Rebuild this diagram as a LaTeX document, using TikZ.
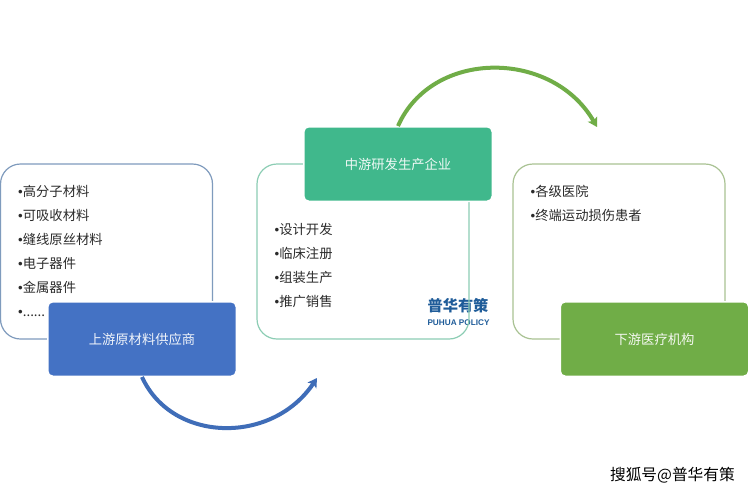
\documentclass[tikz,border=0pt]{standalone}
\usepackage{fontspec}
\setmainfont{Noto Sans CJK SC}
\newfontfamily\bulletfont{Liberation Sans}
\newfontfamily\logolatin{Liberation Sans}
\newcommand{\bu}{{\bulletfont •}}
\definecolor{txt}{HTML}{2B2B2B}
\definecolor{cblue}{HTML}{4472C4}
\definecolor{aqblue}{HTML}{3F6DB8}
\definecolor{cteal}{HTML}{40B88C}
\definecolor{cgreen}{HTML}{70AD47}
\definecolor{lblue}{HTML}{7F9BBD}
\definecolor{lteal}{HTML}{8CCDB4}
\definecolor{lgreen}{HTML}{A9C293}
\definecolor{logoblue}{HTML}{1F5C99}
\tikzset{
  panel/.style={draw=#1, line width=1.2pt, rounded corners=20pt, minimum width=212pt, minimum height=175pt, inner sep=0pt},
  headbox/.style={fill=#1, draw=white, line width=1.5pt, rounded corners=5pt, minimum width=188.5pt, minimum height=74.5pt, inner sep=0pt, text=white!92!#1, font=\fontsize{13.3}{15}\selectfont},
  listtext/.style={anchor=west, inner sep=0pt, align=left, text=txt, font=\fontsize{13.3}{24}\selectfont},
  flow/.style={line width=4pt, draw=#1, -{Stealth[length=9pt,width=10.5pt,inset=2pt]}}
}
\usetikzlibrary{arrows.meta}
\begin{document}
\begin{tikzpicture}[x=1pt,y=-1pt]
\useasboundingbox (0,0) rectangle (749,493);
\fill[white] (0,0) rectangle (749,493);
% logo, under the panel line
\node[inner sep=0pt, text=logoblue, font=\fontsize{15.2}{17}\selectfont\bfseries] (logocn) at (458,306) {普华有策};
\node[inner sep=0pt, text=logoblue, font=\logolatin\fontsize{8.2}{10}\selectfont\bfseries] (logoen) at (458.5,323) {PUHUA POLICY};
% panels
\node[panel=lblue] (leftpanel) at (106.5,251.5) {};
\node[panel=lteal] (midpanel) at (363,251.5) {};
\node[panel=lgreen] (rightpanel) at (619,251.5) {};
% lists
\node[listtext] (leftlist) at (18,250.8) {\bu 高分子材料\\\bu 可吸收材料\\\bu 缝线原丝材料\\\bu 电子器件\\\bu 金属器件\\\bu ......};
\node[listtext] (midlist) at (274.5,265) {\bu 设计开发\\\bu 临床注册\\\bu 组装生产\\\bu 推广销售};
\node[listtext] (rightlist) at (530.5,203.2) {\bu 各级医院\\\bu 终端运动损伤患者};
% head boxes
\node[headbox=cblue] (upbox) at (142,339) {\raisebox{0.8pt}{上游原材料供应商}};
\node[headbox=cteal] (midbox) at (398,164) {\raisebox{0.8pt}{中游研发生产企业}};
\node[headbox=cgreen] (downbox) at (654.5,339) {\raisebox{0.8pt}{下游医疗机构}};
% flows
\coordinate (blueend) at (317,378);
\coordinate (greenend) at (597,127);
\draw[flow=aqblue] (upbox.south) .. controls (172,443) and (272,445) .. (blueend);
\draw[flow=cgreen] (midbox.north) .. controls (432,49) and (552,49) .. (greenend);
% watermark
\node[inner sep=0pt, anchor=east, text=black, font=\fontsize{15.7}{17}\selectfont] (mark) at (735,475) {搜狐号@普华有策};
\end{tikzpicture}
\end{document}
